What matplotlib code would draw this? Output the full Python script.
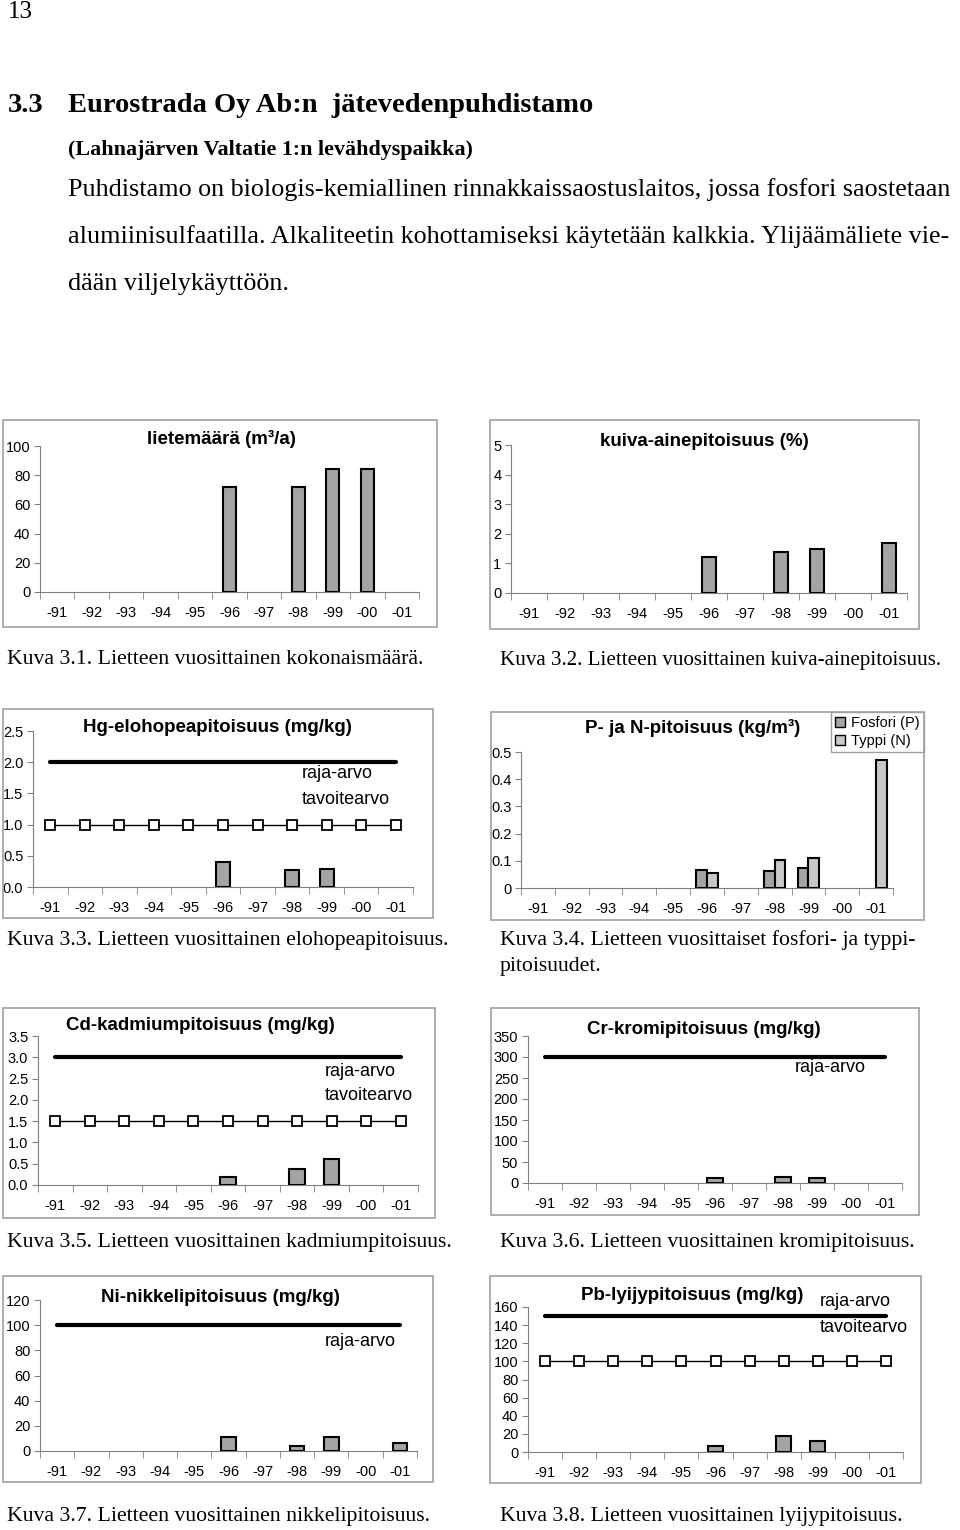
import matplotlib
matplotlib.use("Agg")
import matplotlib.pyplot as plt
from matplotlib.patches import Rectangle

W, H = 960, 1530

years = ["-91", "-92", "-93", "-94", "-95", "-96", "-97", "-98", "-99", "-00", "-01"]

# values per year (None = no bar)
liete = [None, None, None, None, None, 72, None, 72, 84, 84, None]
kuiva = [None, None, None, None, None, 1.2, None, 1.37, 1.48, None, 1.68]
hg = [None, None, None, None, None, 0.40, None, 0.27, 0.29, None, None]
fosfori = [None, None, None, None, None, 0.067, None, 0.061, 0.074, None, None]
typpi = [None, None, None, None, None, 0.055, None, 0.103, 0.110, None, 0.472]
cd = [None, None, None, None, None, 0.19, None, 0.38, 0.61, None, None]
cr = [None, None, None, None, None, 11, None, 15, 11, None, None]
ni = [None, None, None, None, None, 11, None, 4.2, 11, None, 6.6]
pb = [None, None, None, None, None, 7, None, 17.5, 12.5, None, None]

hg_raja, hg_tavoite = 2.0, 1.0
cd_raja, cd_tavoite = 3.0, 1.5
cr_raja = 300
ni_raja = 100
pb_raja, pb_tavoite = 150, 100

SERIF = "Liberation Serif"
SANS = "Liberation Sans"
BAR = "#a4a4a4"
BAR2 = "#c8c8c8"
FRAME = "#a0a0a0"
TICK_FS = 10.5
TITLE_FS = 13.5
NOTE_FS = 13
CAP_FS = 15.7

fig = plt.figure(figsize=(W / 100, H / 100), dpi=100)


def fx(px):
    return px / W


def fy(py):
    return 1 - py / H


def ftext(x, y, s, **kw):
    kw.setdefault("family", SERIF)
    kw.setdefault("va", "center")
    kw.setdefault("ha", "left")
    fig.text(fx(x), fy(y), s, **kw)


def frame(x0, x1, y0, y1):
    fig.patches.append(Rectangle((fx(x0), fy(y1)), fx(x1) - fx(x0), fy(y0) - fy(y1),
                                 transform=fig.transFigure, fill=False,
                                 edgecolor=FRAME, linewidth=1.2))


def make_axes(x0, x1, ytop, ybot, ymax, yticks, ylabels):
    ax = fig.add_axes([fx(x0), fy(ybot), fx(x1) - fx(x0), fy(ytop) - fy(ybot)])
    ax.set_xlim(-0.5, len(years) - 0.5)
    ax.set_ylim(0, ymax)
    for s in ["top", "right"]:
        ax.spines[s].set_visible(False)
    for s in ["left", "bottom"]:
        ax.spines[s].set_color("#808080")
        ax.spines[s].set_linewidth(0.8)
    ax.set_xticks(range(len(years)))
    ax.set_xticklabels(years, family=SANS, fontsize=TICK_FS)
    ax.set_xticks([i - 0.5 for i in range(len(years) + 1)], minor=True)
    ax.tick_params(axis="x", which="major", length=0, pad=10)
    ax.tick_params(axis="x", which="minor", length=5, color="#808080", direction="out")
    ax.set_yticks(yticks)
    ax.set_yticklabels(ylabels, family=SANS, fontsize=TICK_FS)
    ax.tick_params(axis="y", length=4, color="#808080", pad=3)
    ax.patch.set_alpha(0)
    return ax


def bars(ax, vals, width=0.42, offset=0.0, color=BAR, label=None):
    xs = [i + offset for i, v in enumerate(vals) if v is not None]
    hs = [v for v in vals if v is not None]
    ax.bar(xs, hs, width=width, color=color, edgecolor="black", linewidth=1.5,
           label=label, zorder=3)


def raja(ax, value):
    ax.plot([0, len(years) - 1], [value, value], color="black", linewidth=3,
            solid_capstyle="round", zorder=2)


def tavoite(ax, value):
    ax.plot(range(len(years)), [value] * len(years), color="black", linewidth=1,
            marker="s", markersize=7, markerfacecolor="white",
            markeredgecolor="black", markeredgewidth=1.3, zorder=4)


def title(x, y, s):
    ftext(x, y, s, family=SANS, fontsize=TITLE_FS, fontweight="bold", ha="center")


def note(x, y, s):
    ftext(x, y, s, family=SANS, fontsize=NOTE_FS)


# ---- page text ----
ftext(8, 12, "13", fontsize=18)
ftext(8, 105, "3.3", fontsize=20.5, fontweight="bold")
ftext(68, 105, "Eurostrada Oy Ab:n  jätevedenpuhdistamo", fontsize=20.5, fontweight="bold")
ftext(68, 150, "(Lahnajärven Valtatie 1:n levähdyspaikka)", fontsize=15.8, fontweight="bold")
ftext(68, 190, "Puhdistamo on biologis-kemiallinen rinnakkaissaostuslaitos, jossa fosfori saostetaan",
      fontsize=18.8)
ftext(68, 237, "alumiinisulfaatilla. Alkaliteetin kohottamiseksi käytetään kalkkia. Ylijäämäliete vie-",
      fontsize=18.8)
ftext(68, 284, "dään viljelykäyttöön.", fontsize=18.8)

# ---- chart 1 ----
frame(3, 437, 420, 627)
ax = make_axes(40, 419, 446, 592, 100, [0, 20, 40, 60, 80, 100],
               ["0", "20", "40", "60", "80", "100"])
bars(ax, liete, width=0.38)
title(221, 439, "lietemäärä (m³/a)")
ftext(7, 660, "Kuva 3.1. Lietteen vuosittainen kokonaismäärä.", fontsize=CAP_FS)

# ---- chart 2 ----
frame(490, 919, 420, 629)
ax = make_axes(511, 907, 445, 593, 5, [0, 1, 2, 3, 4, 5],
               ["0", "1", "2", "3", "4", "5"])
bars(ax, kuiva, width=0.38)
title(704, 442, "kuiva-ainepitoisuus (%)")
ftext(500, 660, "Kuva 3.2. Lietteen vuosittainen kuiva-ainepitoisuus.", fontsize=15.1)

# ---- chart 3 ----
frame(3, 433, 709, 918)
ax = make_axes(33, 413, 731, 887, 2.5, [0, 0.5, 1.0, 1.5, 2.0, 2.5],
               ["0.0", "0.5", "1.0", "1.5", "2.0", "2.5"])
raja(ax, hg_raja)
tavoite(ax, hg_tavoite)
bars(ax, hg, width=0.4)
note(302, 774, "raja-arvo")
note(302, 799, "tavoitearvo")
title(217, 728, "Hg-elohopeapitoisuus (mg/kg)")
ftext(7, 940, "Kuva 3.3. Lietteen vuosittainen elohopeapitoisuus.", fontsize=CAP_FS)

# ---- chart 4 ----
frame(491, 924, 712, 920)
ax = make_axes(521, 893, 752, 888, 0.5, [0, 0.1, 0.2, 0.3, 0.4, 0.5],
               ["0", "0.1", "0.2", "0.3", "0.4", "0.5"])
bars(ax, fosfori, width=0.32, offset=-0.16, color=BAR, label="Fosfori (P)")
bars(ax, typpi, width=0.32, offset=0.16, color=BAR2, label="Typpi (N)")
leg = ax.legend(loc="upper right", bbox_to_anchor=(fx(924), fy(712)),
                bbox_transform=fig.transFigure, frameon=True,
                fancybox=False, edgecolor=FRAME, framealpha=1,
                handlelength=0.7, handleheight=0.7, handletextpad=0.4,
                borderpad=0.3, labelspacing=0.25, borderaxespad=0,
                prop={"family": SANS, "size": 10.5})
leg.get_frame().set_linewidth(1)
for p in leg.get_patches():
    p.set_linewidth(1)
title(693, 728, "P- ja N-pitoisuus (kg/m³)")
ftext(500, 940, "Kuva 3.4. Lietteen vuosittaiset fosfori- ja typpi-", fontsize=CAP_FS)
ftext(500, 966, "pitoisuudet.", fontsize=CAP_FS)

# ---- chart 5 ----
frame(3, 435, 1008, 1218)
ax = make_axes(38, 418, 1036, 1185, 3.5, [0, 0.5, 1.0, 1.5, 2.0, 2.5, 3.0, 3.5],
               ["0.0", "0.5", "1.0", "1.5", "2.0", "2.5", "3.0", "3.5"])
raja(ax, cd_raja)
tavoite(ax, cd_tavoite)
bars(ax, cd, width=0.44)
note(325, 1071, "raja-arvo")
note(325, 1095, "tavoitearvo")
title(200, 1026, "Cd-kadmiumpitoisuus (mg/kg)")
ftext(7, 1242, "Kuva 3.5. Lietteen vuosittainen kadmiumpitoisuus.", fontsize=CAP_FS)

# ---- chart 6 ----
frame(491, 919, 1008, 1215)
ax = make_axes(528, 902, 1036, 1183, 350, [0, 50, 100, 150, 200, 250, 300, 350],
               ["0", "50", "100", "150", "200", "250", "300", "350"])
raja(ax, cr_raja)
bars(ax, cr, width=0.45)
note(795, 1067, "raja-arvo")
title(704, 1030, "Cr-kromipitoisuus (mg/kg)")
ftext(500, 1242, "Kuva 3.6. Lietteen vuosittainen kromipitoisuus.", fontsize=CAP_FS)

# ---- chart 7 ----
frame(3, 433, 1276, 1482)
ax = make_axes(40, 417, 1300, 1451, 120, [0, 20, 40, 60, 80, 100, 120],
               ["0", "20", "40", "60", "80", "100", "120"])
raja(ax, ni_raja)
bars(ax, ni, width=0.42)
note(325, 1342, "raja-arvo")
title(220, 1298, "Ni-nikkelipitoisuus (mg/kg)")
ftext(7, 1517, "Kuva 3.7. Lietteen vuosittainen nikkelipitoisuus.", fontsize=CAP_FS)

# ---- chart 8 ----
frame(490, 921, 1276, 1483)
ax = make_axes(528, 903, 1307, 1452, 160, [0, 20, 40, 60, 80, 100, 120, 140, 160],
               ["0", "20", "40", "60", "80", "100", "120", "140", "160"])
raja(ax, pb_raja)
tavoite(ax, pb_tavoite)
bars(ax, pb, width=0.45)
note(820, 1302, "raja-arvo")
note(820, 1327, "tavoitearvo")
title(692, 1295, "Pb-lyijypitoisuus (mg/kg)")
ftext(500, 1517, "Kuva 3.8. Lietteen vuosittainen lyijypitoisuus.", fontsize=CAP_FS)

fig.savefig("out.png", dpi=100)
